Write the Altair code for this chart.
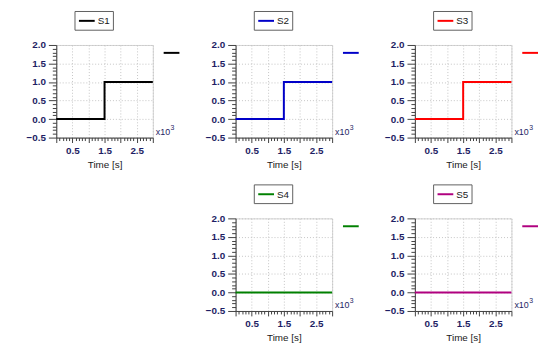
import altair as alt
import pandas as pd

# ---- data ----
series_names = ["S1", "S2", "S3", "S4", "S5"]
series_colors = ["#000000", "#0000c8", "#ff0000", "#008000", "#b0007f"]
time_s = [0, 1500, 3000]
values = {
    "S1": [0.0, 1.0, 1.0],
    "S2": [0.0, 1.0, 1.0],
    "S3": [0.0, 1.0, 1.0],
    "S4": [0.0, 0.0, 0.0],
    "S5": [0.0, 0.0, 0.0],
}
x_ticks = list(range(0, 3001, 100))
y_ticks = [round(-0.5 + i * 0.1, 1) for i in range(26)]
x_title = "Time [s]"
x_mult = "x10"
x_exp = "3"

FONT = "Liberation Sans"
LABEL_COLOR = "#1e1e64"
W, H = 98, 94

major_x = "datum.value % 500 === 0"
major_y = "abs(datum.value*2 - round(datum.value*2)) < 1e-6"

x_axis = alt.Axis(
    values=x_ticks,
    title=x_title,
    labelExpr="datum.value % 1000 === 500 ? format(datum.value/1000, '.1f') : ''",
    labelOverlap=False,
    labelFlush=False,
    tickSize={"condition": {"test": major_x, "value": 5}, "value": 3},
    gridOpacity={"condition": {"test": major_x, "value": 1}, "value": 0},
    labelPadding=3,
    titlePadding=4,
)
y_axis = alt.Axis(
    values=y_ticks,
    title=None,
    labelExpr=f"{major_y} ? format(datum.value, '.1f') : ''",
    labelOverlap=False,
    labelFlush=False,
    tickSize={"condition": {"test": major_y, "value": 8}, "value": 4},
    gridOpacity={"condition": {"test": major_y, "value": 1}, "value": 0},
    labelPadding=3,
)


def panel(name, color):
    df = pd.DataFrame({"time": time_s, "value": values[name]})
    line = alt.Chart(df).mark_line(interpolate="step-after", strokeWidth=2, color=color).encode(
        x=alt.X("time:Q", scale=alt.Scale(domain=[0, 3000], nice=False, zero=False), axis=x_axis),
        y=alt.Y("value:Q", scale=alt.Scale(domain=[-0.5, 2.0], nice=False, zero=False), axis=y_axis),
    )
    leg = alt.Data(values=[{"name": name, "mult": x_mult, "exp": x_exp}])
    box = alt.Chart(leg).mark_rect(fill="white", stroke="#606060", strokeWidth=1).encode(
        x=alt.value(19), x2=alt.value(58), y=alt.value(-34), y2=alt.value(-15)
    )
    sample = alt.Chart(leg).mark_rule(color=color, strokeWidth=2).encode(
        x=alt.value(23), x2=alt.value(39), y=alt.value(-24.5)
    )
    label = alt.Chart(leg).mark_text(
        align="left", baseline="middle", fontSize=10, font=FONT, color="#202020"
    ).encode(x=alt.value(42), y=alt.value(-24), text="name:N")
    marker = alt.Chart(leg).mark_rule(color=color, strokeWidth=2).encode(
        x=alt.value(109), x2=alt.value(125), y=alt.value(8)
    )
    mult = alt.Chart(leg).mark_text(
        align="left", baseline="alphabetic", fontSize=9, font=FONT, color=LABEL_COLOR
    ).encode(x=alt.value(101), y=alt.value(91), text="mult:N")
    exp = alt.Chart(leg).mark_text(
        align="left", baseline="alphabetic", fontSize=7, font=FONT, color=LABEL_COLOR
    ).encode(x=alt.value(116), y=alt.value(86), text="exp:N")
    return alt.layer(line, box, sample, label, marker, mult, exp).properties(width=W, height=H)


empty = alt.Chart(pd.DataFrame({"a": [0]})).mark_point(opacity=0).encode(
    x=alt.X("a:Q", axis=None), y=alt.Y("a:Q", axis=None)
).properties(width=W, height=H, view=alt.ViewBackground(strokeOpacity=0))

panels = [panel(n, c) for n, c in zip(series_names, series_colors)]
chart = alt.concat(
    panels[0], panels[1], panels[2], empty, panels[3], panels[4],
    columns=3, spacing={"row": 82, "column": 84}, bounds="flush",
).properties(
    padding={"left": 17, "top": 0, "right": 0, "bottom": 0}
).configure_view(
    stroke="#d4d4d4", strokeWidth=1
).configure_axis(
    labelFont=FONT, labelFontSize=10, labelFontWeight="bold", labelColor=LABEL_COLOR,
    titleFont=FONT, titleFontSize=10, titleFontWeight="normal", titleColor="#202020",
    domainColor="#404040", tickColor="#404040", domainWidth=1, tickWidth=1,
    gridColor="#c4c4c4", gridDash=[1, 2], gridWidth=1,
)

chart.save("out.html", embed_options={"renderer": "svg", "actions": False})
